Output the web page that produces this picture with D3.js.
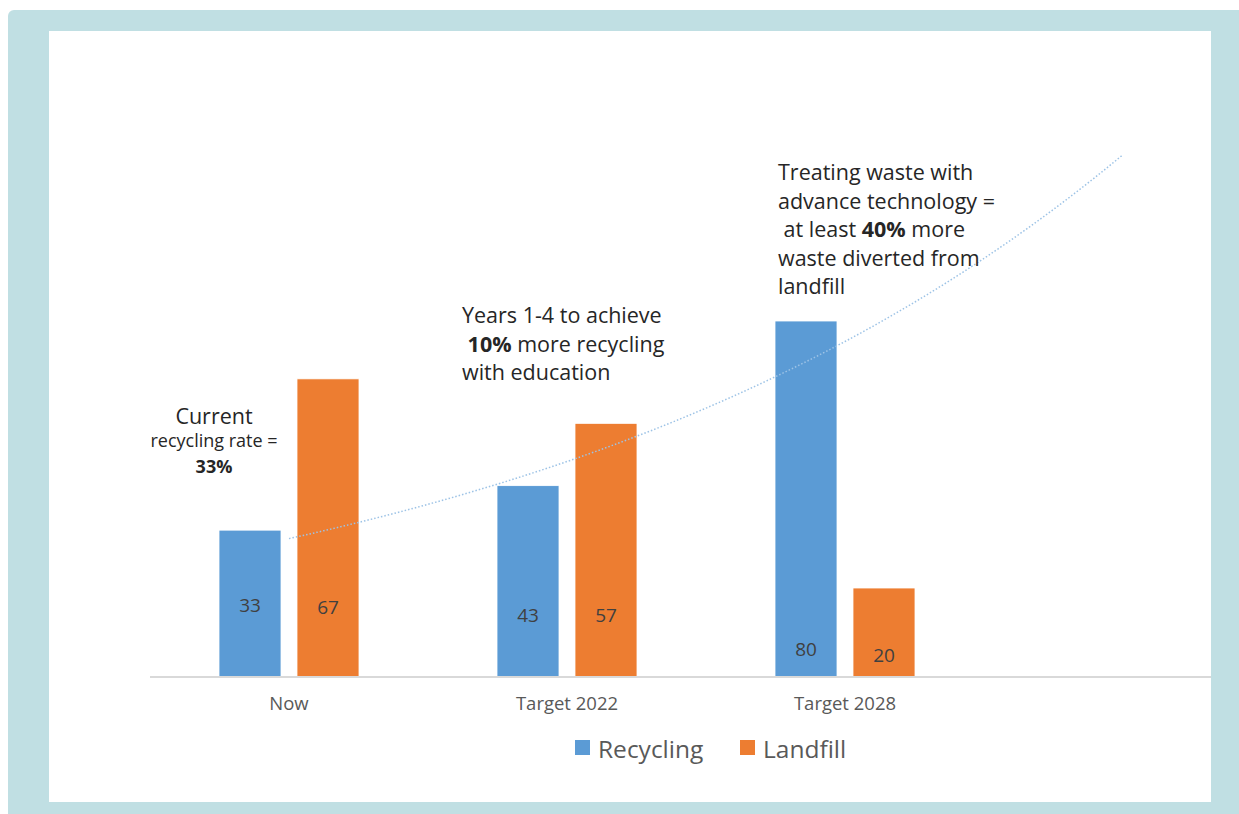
<!DOCTYPE html>
<html>
<head>
<meta charset="utf-8">
<script src="https://cdn.jsdelivr.net/npm/d3@7"></script>
<style>
  html, body { margin: 0; padding: 0; background: #ffffff; }
  svg { display: block; }
  text { font-family: "Open Sans", "DejaVu Sans", sans-serif; }
</style>
</head>
<body>
<svg id="chart" width="1239" height="814"></svg>
<script>
// ---- data ----
const categories = ["Now", "Target 2022", "Target 2028"];
const seriesNames = ["Recycling", "Landfill"];
const recycling = [33, 43, 80];
const landfill = [67, 57, 20];
const seriesColors = ["#5b9bd5", "#ed7d31"];

// ---- layout ----
const W = 1239, H = 814;
const baseY = 677;
const svg = d3.select("#chart");

// frame
svg.append("rect").attr("x", 8).attr("y", 10).attr("width", W - 8 + 10).attr("height", H - 10 + 10)
  .attr("rx", 6).attr("fill", "#c0dfe3");
svg.append("rect").attr("x", 49).attr("y", 31).attr("width", 1162).attr("height", 771).attr("fill", "#ffffff");

// scales
const x0 = d3.scaleBand().domain(categories).range([150, 984]).paddingInner(0).paddingOuter(0);
const bw = x0.bandwidth();
const x1 = d3.scaleBand().domain(seriesNames).range([bw / 2 - 70, bw / 2 + 70]).paddingInner(0.205).paddingOuter(0);
const y = d3.scaleLinear().domain([0, 120]).range([baseY, baseY - 534]);

const rows = categories.map((c, i) => ({ cat: c, values: [recycling[i], landfill[i]] }));

// bars
const groups = svg.append("g").selectAll("g").data(rows).join("g")
  .attr("transform", d => `translate(${x0(d.cat)},0)`);
groups.selectAll("rect").data(d => d.values.map((v, j) => ({ v, s: seriesNames[j], j })))
  .join("rect")
  .attr("x", d => x1(d.s))
  .attr("y", d => y(d.v))
  .attr("width", x1.bandwidth())
  .attr("height", d => y(0) - y(d.v))
  .attr("fill", d => seriesColors[d.j])
  .attr("stroke", "#ffffff").attr("stroke-width", 0.8);

// value labels inside the bars (distance above the base, px)
const labelLift = [[72, 70], [62, 62], [28, 22]];
groups.each(function (d, i) {
  d3.select(this).selectAll("text.val").data(d.values).join("text")
    .attr("class", "val")
    .attr("x", (v, j) => x1(seriesNames[j]) + x1.bandwidth() / 2)
    .attr("y", (v, j) => baseY - labelLift[i][j])
    .attr("text-anchor", "middle").attr("dominant-baseline", "central")
    .attr("font-size", 19).attr("fill", "#404040")
    .text(v => v);
});

// axis line
svg.append("line").attr("x1", 150).attr("x2", 1211).attr("y1", baseY).attr("y2", baseY)
  .attr("stroke", "#d9d9d9").attr("stroke-width", 2);

// category labels
const xAxis = d3.axisBottom(x0).tickSize(0).tickPadding(0);
const ax = svg.append("g").attr("transform", `translate(0,${baseY + 25})`).call(xAxis);
ax.select(".domain").remove();
ax.selectAll("text").attr("font-size", 18.5).attr("fill", "#595959")
  .attr("dominant-baseline", "central").attr("dy", null)
  .style("font-family", "\"Open Sans\", sans-serif");

// exponential trendline of recycling, extended one period forward
const xs = recycling.map((v, i) => i + 1);
const lnY = recycling.map(v => Math.log(v));
const mx = d3.mean(xs), my = d3.mean(lnY);
const b = d3.sum(xs.map((xv, i) => (xv - mx) * (lnY[i] - my))) / d3.sum(xs.map(xv => (xv - mx) ** 2));
const a = Math.exp(my - b * mx);
const step = x0.step();
const xc = t => x0(categories[0]) + bw / 2 + (t - 1) * step;
const trend = d3.range(1, 4.0001, 0.05).map(t => [xc(t), y(a * Math.exp(b * t))]);
svg.append("path").attr("d", d3.line()(trend))
  .attr("fill", "none").attr("stroke", "#9dc3e6").attr("stroke-width", 1.5)
  .attr("stroke-dasharray", "1.5 2");

// annotations
function addLines(x, y0, lh, lines, anchor, size) {
  lines.forEach((parts, k) => {
    const t = svg.append("text").attr("x", x).attr("y", y0 + k * lh)
      .attr("text-anchor", anchor).attr("dominant-baseline", "central")
      .attr("font-size", size).attr("fill", "#262626")
      .style("white-space", "pre");
    parts.forEach(p => {
      t.append("tspan").attr("font-weight", p.b ? "bold" : "normal").text(p.t);
    });
  });
}
addLines(214, 415, 0, [[{ t: "Current" }]], "middle", 21.5);
addLines(214, 440, 0, [[{ t: "recycling rate =" }]], "middle", 18);
addLines(214, 466, 0, [[{ t: "33%", b: true }]], "middle", 18);

addLines(462, 314, 28.5, [
  [{ t: "Years 1-4 to achieve" }],
  [{ t: " " }, { t: "10%", b: true }, { t: " more recycling" }],
  [{ t: "with education" }]
], "start", 21.5);

addLines(778, 171, 28.5, [
  [{ t: "Treating waste with" }],
  [{ t: "advance technology =" }],
  [{ t: " at least " }, { t: "40%", b: true }, { t: " more" }],
  [{ t: "waste diverted from" }],
  [{ t: "landfill" }]
], "start", 21.5);

// legend
const legend = svg.append("g");
const legendItems = [{ name: "Recycling", x: 575 }, { name: "Landfill", x: 740 }];
legendItems.forEach((it, i) => {
  legend.append("rect").attr("x", it.x).attr("y", 740).attr("width", 15).attr("height", 15)
    .attr("fill", seriesColors[i]);
  legend.append("text").attr("x", it.x + 23).attr("y", 748).attr("dominant-baseline", "central")
    .attr("font-size", 24.5).attr("fill", "#595959").text(it.name);
});
</script>
</body>
</html>
